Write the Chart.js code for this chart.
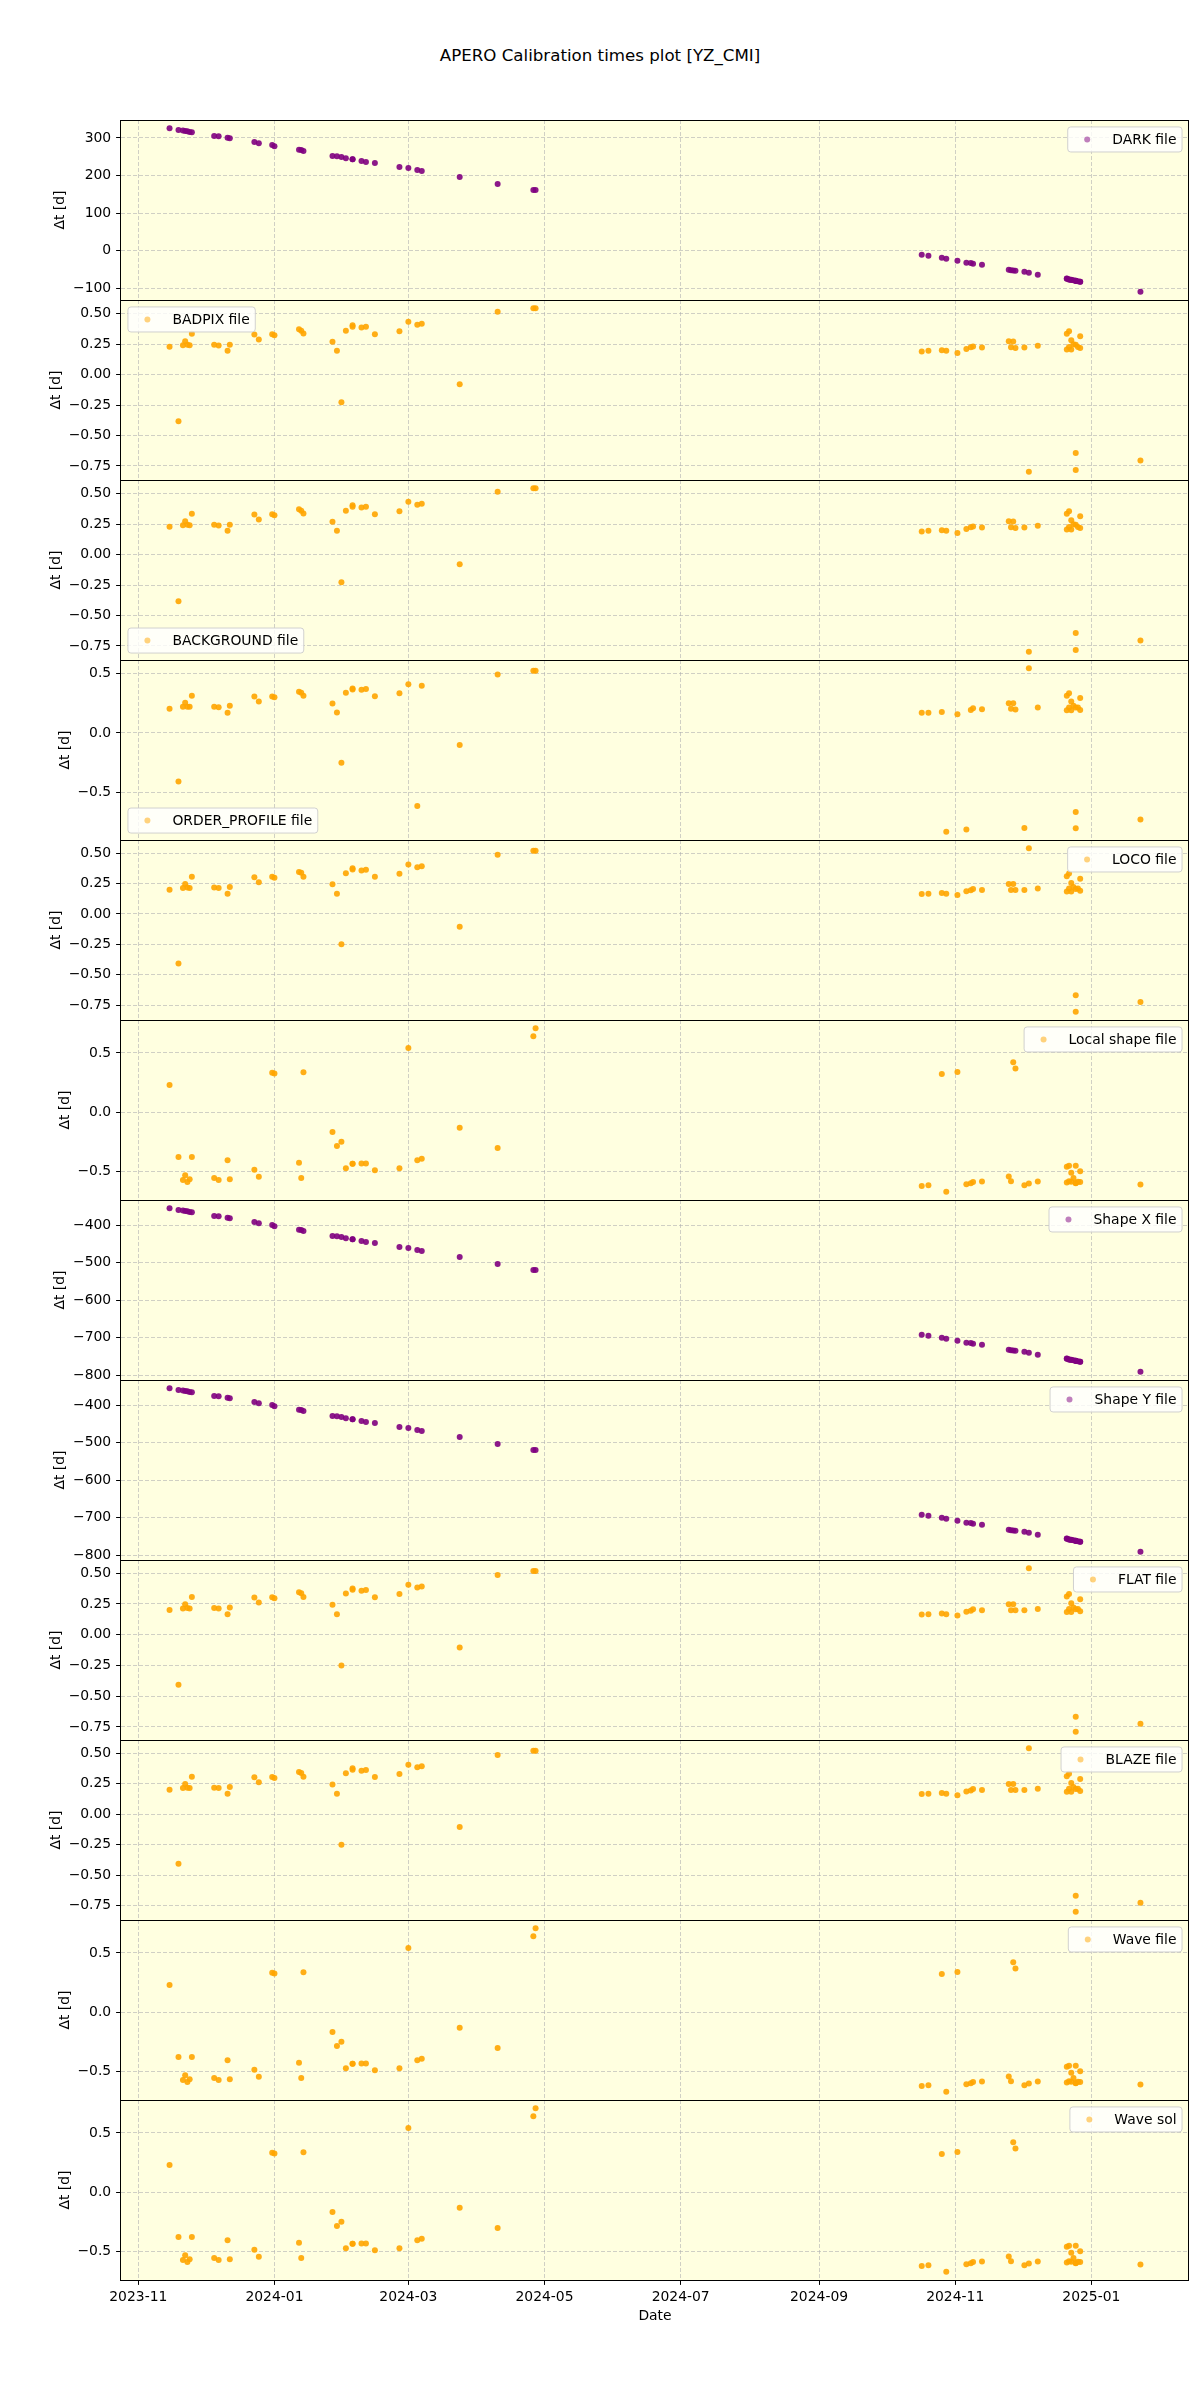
<!DOCTYPE html>
<html>
<head>
<meta charset="utf-8">
<script src="https://cdn.jsdelivr.net/npm/chart.js@4.4.1/dist/chart.umd.min.js"></script>
<style>
  body { margin: 0; background: #fff; }
  #page { position: relative; width: 1200px; height: 2400px; overflow: hidden; }
  #title { position: absolute; left: 0; top: 45px; width: 1200px; text-align: center;
           font: 16.67px "DejaVu Sans"; line-height: 22px; color: #000; }
  canvas { position: absolute; left: 0; }
</style>
</head>
<body>
<div id="page">
  <div id="title">APERO Calibration times plot [YZ_CMI]</div>
</div>
<script>
// one entry per observation (several on the same night in late December)
const obsDates = [
  "2023-11-15", "2023-11-19", "2023-11-21", "2023-11-22", "2023-11-23", "2023-11-24", "2023-11-25",
  "2023-12-05", "2023-12-07", "2023-12-11", "2023-12-12", "2023-12-23", "2023-12-25", "2023-12-31",
  "2024-01-01", "2024-01-12", "2024-01-13", "2024-01-14", "2024-01-27", "2024-01-29", "2024-01-31",
  "2024-02-02", "2024-02-05", "2024-02-05", "2024-02-09", "2024-02-11", "2024-02-15", "2024-02-26",
  "2024-03-01", "2024-03-05", "2024-03-07", "2024-03-24", "2024-04-10", "2024-04-26", "2024-04-27",
  "2024-10-17", "2024-10-20", "2024-10-26", "2024-10-28", "2024-11-02", "2024-11-06", "2024-11-08",
  "2024-11-09", "2024-11-13", "2024-11-25", "2024-11-26", "2024-11-27", "2024-11-28", "2024-12-02",
  "2024-12-04", "2024-12-08", "2024-12-21", "2024-12-22", "2024-12-23", "2024-12-21", "2024-12-22",
  "2024-12-23", "2024-12-24", "2024-12-25", "2024-12-25", "2024-12-25", "2024-12-26", "2024-12-27",
  "2024-12-27", "2025-01-23",
];

const darkDt = [
  326, 321, 320, 318.5, 317.5, 316, 315, 305, 304.5, 300.5, 299.5, 289, 286, 281,
  278, 268.6, 268, 265, 252, 251, 249, 246, 243.5, 243, 238.5, 236, 233, 222.5,
  220, 214.6, 212, 196, 177.4, 161.4, 161,
  -11.5, -14, -19.5, -22, -27.5, -32.8, -33.5, -35, -38, -51.4, -52.5, -53, -54, -56.6,
  -59.4, -64.6, -74.5, -77, -78, -75, -77, -78.5, -79, -80.5, -80.5, -81, -82, -83,
  -83, -110,
];

const badpixDt = [
  0.228, -0.384, 0.241, 0.274, 0.245, 0.241, 0.335, 0.244, 0.238, 0.195, 0.244, 0.329, 0.288, 0.331,
  0.323, 0.373, 0.359, 0.337, 0.269, 0.195, -0.228, 0.359, 0.405, 0.392, 0.387, 0.392, 0.331, 0.356,
  0.433, 0.409, 0.417, -0.080, 0.515, 0.545, 0.545,
  0.189, 0.195, 0.200, 0.195, 0.178, 0.211, 0.225, 0.230, 0.222, 0.274, 0.225, 0.271, 0.219, 0.222,
  -0.798, 0.236, 0.335, 0.356, 0.282, 0.205, 0.227, 0.205, 0.250, 0.244, -0.644, -0.784, 0.227, 0.315,
  0.219, -0.705,
];

const backgroundDt = [
  0.228, -0.384, 0.241, 0.274, 0.245, 0.241, 0.335, 0.244, 0.238, 0.195, 0.244, 0.329, 0.288, 0.331,
  0.323, 0.373, 0.359, 0.337, 0.269, 0.195, -0.228, 0.359, 0.405, 0.392, 0.387, 0.392, 0.331, 0.356,
  0.433, 0.409, 0.417, -0.080, 0.515, 0.545, 0.545,
  0.189, 0.195, 0.200, 0.195, 0.178, 0.211, 0.225, 0.230, 0.222, 0.274, 0.225, 0.271, 0.219, 0.222,
  -0.798, 0.236, 0.335, 0.356, 0.282, 0.205, 0.227, 0.205, 0.250, 0.244, -0.644, -0.784, 0.227, 0.315,
  0.219, -0.705,
];

const orderProfileDt = [
  0.202, -0.407, 0.219, 0.252, 0.219, 0.219, 0.311, 0.219, 0.216, 0.168, 0.227, 0.305, 0.263, 0.305,
  0.300, 0.345, 0.336, 0.311, 0.246, 0.171, -0.250, 0.336, 0.372, 0.365, 0.361, 0.369, 0.308, 0.333,
  0.409, -0.613, 0.395, -0.101, 0.490, 0.521, 0.521,
  0.168, 0.168, 0.176, -0.830, 0.157, -0.810, 0.193, 0.207, 0.198, 0.249, 0.202, 0.249, 0.196, -0.798,
  0.543, 0.213, 0.311, 0.333, 0.263, 0.190, 0.213, 0.190, 0.227, 0.213, -0.664, -0.800, 0.213, 0.292,
  0.193, -0.726,
];

const locoDt = [
  0.200, -0.407, 0.214, 0.247, 0.217, 0.214, 0.307, 0.217, 0.214, 0.167, 0.222, 0.302, 0.261, 0.305,
  0.297, 0.346, 0.338, 0.307, 0.244, 0.167, -0.250, 0.335, 0.376, 0.365, 0.357, 0.363, 0.305, 0.330,
  0.406, 0.384, 0.393, -0.105, 0.486, 0.519, 0.519,
  0.165, 0.167, 0.173, 0.167, 0.156, 0.187, 0.195, 0.206, 0.198, 0.247, 0.198, 0.247, 0.198, 0.198,
  0.541, 0.209, 0.310, 0.332, 0.255, 0.184, 0.209, 0.184, 0.222, 0.206, -0.668, -0.805, 0.209, 0.289,
  0.190, -0.725,
];

const localShapeDt = [
  0.229, -0.381, -0.574, -0.534, -0.591, -0.568, -0.381, -0.559, -0.574, -0.407, -0.568, -0.489, -0.548, 0.331,
  0.325, -0.430, -0.559, 0.336, -0.169, -0.288, -0.252, -0.475, -0.438, -0.438, -0.435, -0.435, -0.492, -0.475,
  0.542, -0.407, -0.396, -0.133, -0.305, 0.641, 0.709,
  -0.625, -0.619, 0.322, -0.675, 0.339, -0.610, -0.602, -0.593, -0.588, -0.545, -0.585, 0.420, 0.369, -0.619,
  -0.605, -0.588, -0.463, -0.455, -0.514, -0.596, -0.585, -0.590, -0.559, -0.602, -0.455, -0.600, -0.590, -0.500,
  -0.593, -0.613,
];

const shapeXDt = [
  -355, -360, -361, -362.5, -363.5, -365, -366, -376, -376.5, -380.5, -381.5, -392, -395, -400,
  -403, -412.4, -413, -416, -429, -430, -432, -435, -437.5, -438, -442.5, -445, -448, -458.5,
  -461, -466.4, -469, -485, -503.6, -519.6, -520,
  -692.5, -695, -700.5, -703, -708.5, -713.8, -714.5, -716, -719, -732.4, -733.5, -734, -735, -737.6,
  -740.4, -745.6, -755.5, -758, -759, -756, -758, -759.5, -760, -761.5, -761.5, -762, -763, -764,
  -764, -791,
];

const shapeYDt = [
  -355, -360, -361, -362.5, -363.5, -365, -366, -376, -376.5, -380.5, -381.5, -392, -395, -400,
  -403, -412.4, -413, -416, -429, -430, -432, -435, -437.5, -438, -442.5, -445, -448, -458.5,
  -461, -466.4, -469, -485, -503.6, -519.6, -520,
  -692.5, -695, -700.5, -703, -708.5, -713.8, -714.5, -716, -719, -732.4, -733.5, -734, -735, -737.6,
  -740.4, -745.6, -755.5, -758, -759, -756, -758, -759.5, -760, -761.5, -761.5, -762, -763, -764,
  -764, -791,
];

const flatDt = [
  0.200, -0.407, 0.214, 0.247, 0.217, 0.214, 0.307, 0.217, 0.214, 0.167, 0.222, 0.302, 0.261, 0.305,
  0.297, 0.346, 0.338, 0.307, 0.244, 0.167, -0.250, 0.335, 0.376, 0.365, 0.357, 0.363, 0.305, 0.330,
  0.406, 0.384, 0.393, -0.105, 0.486, 0.519, 0.519,
  0.165, 0.167, 0.173, 0.167, 0.156, 0.187, 0.195, 0.206, 0.198, 0.247, 0.198, 0.247, 0.198, 0.198,
  0.541, 0.209, 0.310, 0.332, 0.255, 0.184, 0.209, 0.184, 0.222, 0.206, -0.668, -0.790, 0.209, 0.289,
  0.190, -0.725,
];

const blazeDt = [
  0.200, -0.407, 0.214, 0.247, 0.217, 0.214, 0.307, 0.217, 0.214, 0.167, 0.222, 0.302, 0.261, 0.305,
  0.297, 0.346, 0.338, 0.307, 0.244, 0.167, -0.250, 0.335, 0.376, 0.365, 0.357, 0.363, 0.305, 0.330,
  0.406, 0.384, 0.393, -0.105, 0.486, 0.519, 0.519,
  0.165, 0.167, 0.173, 0.167, 0.156, 0.187, 0.195, 0.206, 0.198, 0.247, 0.198, 0.247, 0.198, 0.198,
  0.541, 0.209, 0.310, 0.332, 0.255, 0.184, 0.209, 0.184, 0.222, 0.206, -0.668, -0.800, 0.209, 0.289,
  0.190, -0.725,
];

const waveFileDt = [
  0.229, -0.381, -0.574, -0.534, -0.591, -0.568, -0.381, -0.559, -0.574, -0.407, -0.568, -0.489, -0.548, 0.331,
  0.325, -0.430, -0.559, 0.336, -0.169, -0.288, -0.252, -0.475, -0.438, -0.438, -0.435, -0.435, -0.492, -0.475,
  0.542, -0.407, -0.396, -0.133, -0.305, 0.641, 0.709,
  -0.625, -0.619, 0.322, -0.675, 0.339, -0.610, -0.602, -0.593, -0.588, -0.545, -0.585, 0.420, 0.369, -0.619,
  -0.605, -0.588, -0.463, -0.455, -0.514, -0.596, -0.585, -0.590, -0.559, -0.602, -0.455, -0.600, -0.590, -0.500,
  -0.593, -0.613,
];

const waveSolDt = [
  0.229, -0.381, -0.574, -0.534, -0.591, -0.568, -0.381, -0.559, -0.574, -0.407, -0.568, -0.489, -0.548, 0.331,
  0.325, -0.430, -0.559, 0.336, -0.169, -0.288, -0.252, -0.475, -0.438, -0.438, -0.435, -0.435, -0.492, -0.475,
  0.542, -0.407, -0.396, -0.133, -0.305, 0.641, 0.709,
  -0.625, -0.619, 0.322, -0.675, 0.339, -0.610, -0.602, -0.593, -0.588, -0.545, -0.585, 0.420, 0.369, -0.619,
  -0.605, -0.588, -0.463, -0.455, -0.514, -0.596, -0.585, -0.590, -0.559, -0.602, -0.455, -0.600, -0.590, -0.500,
  -0.593, -0.613,
];

const xTickLabels = ["2023-11", "2024-01", "2024-03", "2024-05", "2024-07", "2024-09", "2024-11", "2025-01"];
const darkTicks = [-100, 0, 100, 200, 300];
const fineTicks = [-0.75, -0.5, -0.25, 0, 0.25, 0.5];
const coarseTicks = [-0.5, 0, 0.5];
const shapeTicks = [-800, -700, -600, -500, -400];

const PURPLE = "rgba(128,0,128,0.9)";
const ORANGE = "rgba(255,165,0,0.9)";

const panels = [
  { label: "DARK file", values: darkDt, color: PURPLE, ticks: darkTicks, dec: 0, loc: "ur" },
  { label: "BADPIX file", values: badpixDt, color: ORANGE, ticks: fineTicks, dec: 2, loc: "ul" },
  { label: "BACKGROUND file", values: backgroundDt, color: ORANGE, ticks: fineTicks, dec: 2, loc: "ll" },
  { label: "ORDER_PROFILE file", values: orderProfileDt, color: ORANGE, ticks: coarseTicks, dec: 1, loc: "ll" },
  { label: "LOCO file", values: locoDt, color: ORANGE, ticks: fineTicks, dec: 2, loc: "ur" },
  { label: "Local shape file", values: localShapeDt, color: ORANGE, ticks: coarseTicks, dec: 1, loc: "ur" },
  { label: "Shape X file", values: shapeXDt, color: PURPLE, ticks: shapeTicks, dec: 0, loc: "ur" },
  { label: "Shape Y file", values: shapeYDt, color: PURPLE, ticks: shapeTicks, dec: 0, loc: "ur" },
  { label: "FLAT file", values: flatDt, color: ORANGE, ticks: fineTicks, dec: 2, loc: "ur" },
  { label: "BLAZE file", values: blazeDt, color: ORANGE, ticks: fineTicks, dec: 2, loc: "ur" },
  { label: "Wave file", values: waveFileDt, color: ORANGE, ticks: coarseTicks, dec: 1, loc: "ur" },
  { label: "Wave sol", values: waveSolDt, color: ORANGE, ticks: coarseTicks, dec: 1, loc: "ur" },
];

const FS = 13.9;
const FONT = '"DejaVu Sans"';
const GRID = "rgba(176,176,176,0.6)";
Chart.defaults.font.family = FONT;
Chart.defaults.font.size = FS;
Chart.defaults.color = "#000";

const fmt = (v, dec) => v.toFixed(dec).replace("-", "\u2212");

// matplotlib-like 5% margins
const xs = obsDates.map(d => Date.parse(d));
const xLo = Math.min(...xs), xHi = Math.max(...xs);
const xMin = xLo - 0.05 * (xHi - xLo), xMax = xHi + 0.05 * (xHi - xLo);

const measure = document.createElement("canvas").getContext("2d");
measure.font = FS + "px " + FONT;

// yellow axes, black frame and legend box
const panelPlugin = {
  id: "panel",
  beforeDraw(chart) {
    const a = chart.chartArea, ctx = chart.ctx;
    ctx.save();
    ctx.fillStyle = "#ffffe0";
    ctx.fillRect(a.left, a.top, a.width, a.height);
    ctx.restore();
  },
  afterDraw(chart) {
    const a = chart.chartArea, ctx = chart.ctx, o = chart.options.plugins.panel;
    ctx.save();
    ctx.strokeStyle = "#000";
    ctx.lineWidth = 1;
    ctx.strokeRect(a.left - 0.5, a.top + 0.5, a.width, a.height);

    ctx.font = FS + "px " + FONT;
    const tw = ctx.measureText(o.text).width;
    const w = FS * 3.6 + tw, h = FS * 1.8, pad = FS * 0.5;
    const x = o.loc[1] === "r" ? a.right - pad - w : a.left + pad;
    const y = o.loc[0] === "u" ? a.top + pad : a.bottom - pad - h;
    ctx.beginPath();
    ctx.roundRect(x, y, w, h, 3);
    ctx.fillStyle = "rgba(255,255,255,0.8)";
    ctx.fill();
    ctx.strokeStyle = "rgba(204,204,204,0.9)";
    ctx.stroke();
    ctx.beginPath();
    ctx.arc(x + FS * 1.4, y + h / 2, 3, 0, Math.PI * 2);
    ctx.fillStyle = o.marker;
    ctx.fill();
    ctx.fillStyle = "#000";
    ctx.textBaseline = "middle";
    ctx.fillText(o.text, x + FS * 3.2, y + h / 2 + 0.5);
    ctx.restore();
  },
};

const page = document.getElementById("page");

panels.forEach((p, i) => {
  const last = i === panels.length - 1;
  const lo = Math.min(...p.values), hi = Math.max(...p.values);
  const yMin = lo - 0.05 * (hi - lo), yMax = hi + 0.05 * (hi - lo);
  const shown = p.ticks.filter(v => v >= yMin && v <= yMax);
  const widest = Math.max(...shown.map(v => measure.measureText(fmt(v, p.dec)).width));
  const labelCenter = 111.3 - widest - 5.6 - 7;

  const canvas = document.createElement("canvas");
  canvas.width = 1200;
  canvas.height = last ? 235 : 192;
  canvas.style.top = (120 + 180 * i - 6) + "px";
  page.appendChild(canvas);

  new Chart(canvas, {
    type: "scatter",
    data: {
      datasets: [{
        label: p.label,
        data: obsDates.map((d, k) => ({ x: Date.parse(d), y: p.values[k] })),
        backgroundColor: p.color,
        borderWidth: 0,
        pointRadius: 3,
        pointHoverRadius: 3,
      }],
    },
    options: {
      responsive: false,
      animation: false,
      devicePixelRatio: 1,
      layout: { autoPadding: false, padding: { left: 0, right: 11, top: 6, bottom: last ? 0 : 6 } },
      plugins: {
        legend: { display: false },
        tooltip: { enabled: false },
        panel: { text: p.label, loc: p.loc, marker: p.color.replace("0.9)", "0.5)") },
      },
      scales: {
        x: {
          type: "linear",
          min: xMin,
          max: xMax,
          afterBuildTicks: s => { s.ticks = xTickLabels.map(l => ({ value: Date.parse(l + "-01") })); },
          afterFit: s => {
            s.height = last ? 49 : 0;
            s.paddingLeft = s.paddingRight = s.paddingTop = s.paddingBottom = 0;
          },
          ticks: { display: last, autoSkip: false, maxRotation: 0, padding: 4,
                   callback: (v, k) => xTickLabels[k] },
          grid: { color: GRID, drawTicks: last, tickColor: "#000", tickLength: 4.9,
                  tickWidth: 1, tickBorderDash: [] },
          border: { display: false, dash: [4, 2] },
          title: { display: last, text: "Date", padding: { top: 0, bottom: 4 } },
        },
        y: {
          min: yMin,
          max: yMax,
          afterBuildTicks: s => { s.ticks = shown.map(v => ({ value: v })); },
          afterFit: s => {
            s.width = 121;
            s.paddingLeft = s.paddingRight = s.paddingTop = s.paddingBottom = 0;
          },
          ticks: { padding: 4.9, callback: v => fmt(v, p.dec) },
          grid: { color: GRID, tickColor: "#000", tickLength: 4.9, tickWidth: 1, tickBorderDash: [] },
          border: { display: false, dash: [4, 2] },
          title: { display: true, text: "\u0394t [d]", padding: { top: labelCenter - FS * 0.6, bottom: 0 } },
        },
      },
    },
    plugins: [panelPlugin],
  });
});
</script>
</body>
</html>
